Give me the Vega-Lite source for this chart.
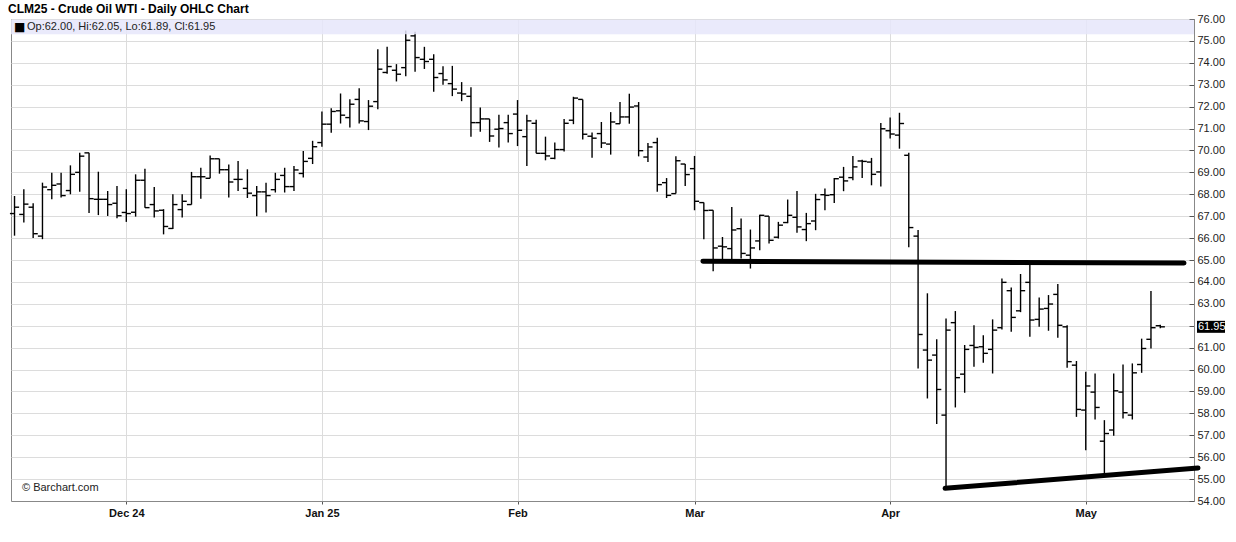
{
  "$schema": "https://vega.github.io/schema/vega-lite/v6.json",
  "width": 1183,
  "height": 482,
  "autosize": {"type": "none"},
  "padding": {"left": 11, "top": 19, "right": 42, "bottom": 41},
  "background": "white",
  "title": {
    "text": "CLM25 - Crude Oil WTI - Daily OHLC Chart",
    "anchor": "start",
    "frame": "group",
    "font": "Liberation Sans",
    "fontSize": 12,
    "fontWeight": "bold",
    "color": "#000000",
    "baseline": "alphabetic",
    "offset": 5,
    "dx": -3,
    "dy": 17
  },
  "config": {
    "view": {"stroke": "#888888", "strokeWidth": 1},
    "font": "Liberation Sans",
    "axis": {"gridColor": "#dcdcdc", "gridWidth": 1, "domainColor": "#888888", "tickColor": "#555555", "labelFont": "Liberation Sans", "labelFontSize": 11, "labelColor": "#222222", "title": null},
    "axisY": {"values": [54,55,56,57,58,59,60,61,62,63,64,65,66,67,68,69,70,71,72,73,74,75,76], "format": ".2f", "labelOverlap": false, "tickSize": -5, "labelPadding": 8, "grid": true, "tickCount": 23}
  },
  "datasets": {
    "bars": [
      {"i":0,"date":"2024-11-13","o":67.12,"h":67.92,"l":66.11,"c":67.41},
      {"i":1,"date":"2024-11-14","o":67.08,"h":68.23,"l":66.71,"c":67.55},
      {"i":2,"date":"2024-11-15","o":67.41,"h":67.59,"l":66.00,"c":66.20},
      {"i":3,"date":"2024-11-18","o":66.09,"h":68.53,"l":65.95,"c":68.33},
      {"i":4,"date":"2024-11-19","o":68.21,"h":68.98,"l":67.77,"c":68.41},
      {"i":5,"date":"2024-11-20","o":68.47,"h":68.98,"l":67.85,"c":67.94},
      {"i":6,"date":"2024-11-21","o":68.17,"h":69.32,"l":68.00,"c":68.91},
      {"i":7,"date":"2024-11-22","o":69.00,"h":69.89,"l":68.11,"c":69.74},
      {"i":8,"date":"2024-11-25","o":69.89,"h":69.89,"l":67.14,"c":67.80},
      {"i":9,"date":"2024-11-26","o":67.77,"h":69.03,"l":67.05,"c":67.77},
      {"i":10,"date":"2024-11-27","o":67.77,"h":68.15,"l":67.01,"c":67.53},
      {"i":11,"date":"2024-11-29","o":67.59,"h":68.38,"l":66.91,"c":67.02},
      {"i":12,"date":"2024-12-02","o":67.17,"h":68.23,"l":66.74,"c":67.12},
      {"i":13,"date":"2024-12-03","o":67.18,"h":68.91,"l":66.98,"c":68.64},
      {"i":14,"date":"2024-12-04","o":68.64,"h":69.17,"l":67.39,"c":67.39},
      {"i":15,"date":"2024-12-05","o":67.53,"h":68.33,"l":66.94,"c":67.24},
      {"i":16,"date":"2024-12-06","o":67.27,"h":67.32,"l":66.17,"c":66.53},
      {"i":17,"date":"2024-12-09","o":66.44,"h":68.00,"l":66.41,"c":67.53},
      {"i":18,"date":"2024-12-10","o":67.30,"h":68.00,"l":66.94,"c":67.68},
      {"i":19,"date":"2024-12-11","o":67.53,"h":69.02,"l":67.53,"c":68.80},
      {"i":20,"date":"2024-12-12","o":68.80,"h":69.21,"l":67.80,"c":68.80},
      {"i":21,"date":"2024-12-13","o":68.73,"h":69.77,"l":68.73,"c":69.62},
      {"i":22,"date":"2024-12-16","o":69.62,"h":69.62,"l":68.94,"c":69.12},
      {"i":23,"date":"2024-12-17","o":69.12,"h":69.36,"l":67.85,"c":68.56},
      {"i":24,"date":"2024-12-18","o":68.68,"h":69.52,"l":68.15,"c":68.68},
      {"i":25,"date":"2024-12-19","o":68.27,"h":69.14,"l":67.83,"c":68.05},
      {"i":26,"date":"2024-12-20","o":67.94,"h":68.38,"l":67.00,"c":68.11},
      {"i":27,"date":"2024-12-23","o":68.11,"h":68.53,"l":67.17,"c":67.94},
      {"i":28,"date":"2024-12-24","o":68.21,"h":68.98,"l":68.08,"c":68.68},
      {"i":29,"date":"2024-12-26","o":68.86,"h":69.21,"l":68.08,"c":68.35},
      {"i":30,"date":"2024-12-27","o":68.35,"h":69.29,"l":68.15,"c":69.11},
      {"i":31,"date":"2024-12-30","o":68.95,"h":69.97,"l":68.76,"c":69.50},
      {"i":32,"date":"2024-12-31","o":69.64,"h":70.44,"l":69.38,"c":70.17},
      {"i":33,"date":"2025-01-02","o":70.36,"h":71.78,"l":70.17,"c":71.20},
      {"i":34,"date":"2025-01-03","o":71.20,"h":71.93,"l":70.81,"c":71.78},
      {"i":35,"date":"2025-01-06","o":71.81,"h":72.60,"l":71.23,"c":71.61},
      {"i":36,"date":"2025-01-07","o":71.50,"h":72.34,"l":71.05,"c":72.11},
      {"i":37,"date":"2025-01-08","o":72.33,"h":72.84,"l":71.23,"c":71.35},
      {"i":38,"date":"2025-01-09","o":71.32,"h":72.30,"l":70.93,"c":72.02},
      {"i":39,"date":"2025-01-10","o":72.23,"h":74.62,"l":71.88,"c":73.71},
      {"i":40,"date":"2025-01-13","o":73.56,"h":74.73,"l":73.50,"c":73.83},
      {"i":41,"date":"2025-01-14","o":73.66,"h":73.94,"l":73.15,"c":73.48},
      {"i":42,"date":"2025-01-15","o":73.78,"h":75.48,"l":73.39,"c":75.03},
      {"i":43,"date":"2025-01-16","o":75.23,"h":75.42,"l":73.59,"c":74.24},
      {"i":44,"date":"2025-01-17","o":74.16,"h":74.73,"l":73.72,"c":74.06},
      {"i":45,"date":"2025-01-21","o":74.16,"h":74.39,"l":72.68,"c":73.33},
      {"i":46,"date":"2025-01-22","o":73.51,"h":73.84,"l":73.00,"c":73.22},
      {"i":47,"date":"2025-01-23","o":73.05,"h":73.86,"l":72.48,"c":72.80},
      {"i":48,"date":"2025-01-24","o":72.62,"h":73.12,"l":72.25,"c":72.58},
      {"i":49,"date":"2025-01-27","o":72.47,"h":72.88,"l":70.62,"c":71.27},
      {"i":50,"date":"2025-01-28","o":71.27,"h":71.96,"l":70.85,"c":71.44},
      {"i":51,"date":"2025-01-29","o":71.44,"h":71.44,"l":70.39,"c":70.66},
      {"i":52,"date":"2025-01-30","o":70.97,"h":71.63,"l":70.13,"c":71.00},
      {"i":53,"date":"2025-01-31","o":71.27,"h":71.63,"l":70.36,"c":70.77},
      {"i":54,"date":"2025-02-03","o":71.66,"h":72.30,"l":70.20,"c":70.92},
      {"i":55,"date":"2025-02-04","o":70.63,"h":71.63,"l":69.29,"c":71.35},
      {"i":56,"date":"2025-02-05","o":71.24,"h":71.40,"l":69.87,"c":69.87},
      {"i":57,"date":"2025-02-06","o":69.87,"h":70.63,"l":69.55,"c":69.75},
      {"i":58,"date":"2025-02-07","o":69.64,"h":70.36,"l":69.60,"c":70.04},
      {"i":59,"date":"2025-02-10","o":70.04,"h":71.44,"l":69.95,"c":71.24},
      {"i":60,"date":"2025-02-11","o":71.38,"h":72.45,"l":71.20,"c":72.39},
      {"i":61,"date":"2025-02-12","o":72.33,"h":72.33,"l":70.50,"c":70.74},
      {"i":62,"date":"2025-02-13","o":70.65,"h":70.82,"l":69.67,"c":70.56},
      {"i":63,"date":"2025-02-14","o":70.77,"h":71.30,"l":70.11,"c":70.34},
      {"i":64,"date":"2025-02-18","o":70.29,"h":71.75,"l":69.81,"c":71.30},
      {"i":65,"date":"2025-02-19","o":71.22,"h":72.21,"l":71.22,"c":71.53},
      {"i":66,"date":"2025-02-20","o":71.53,"h":72.59,"l":71.22,"c":71.98},
      {"i":67,"date":"2025-02-21","o":72.03,"h":72.21,"l":69.73,"c":69.99},
      {"i":68,"date":"2025-02-24","o":69.70,"h":70.34,"l":69.47,"c":70.16},
      {"i":69,"date":"2025-02-25","o":70.36,"h":70.58,"l":68.11,"c":68.44},
      {"i":70,"date":"2025-02-26","o":68.53,"h":68.74,"l":67.83,"c":67.95},
      {"i":71,"date":"2025-02-27","o":68.03,"h":69.73,"l":68.03,"c":69.53},
      {"i":72,"date":"2025-02-28","o":69.38,"h":69.38,"l":68.38,"c":68.90},
      {"i":73,"date":"2025-03-03","o":69.17,"h":69.75,"l":67.27,"c":67.68},
      {"i":74,"date":"2025-03-04","o":67.62,"h":67.62,"l":65.95,"c":67.26},
      {"i":75,"date":"2025-03-05","o":67.27,"h":67.27,"l":64.49,"c":65.55},
      {"i":76,"date":"2025-03-06","o":65.63,"h":66.05,"l":64.99,"c":65.60},
      {"i":77,"date":"2025-03-07","o":65.52,"h":67.42,"l":64.99,"c":66.37},
      {"i":78,"date":"2025-03-10","o":66.43,"h":66.89,"l":65.07,"c":65.30},
      {"i":79,"date":"2025-03-11","o":65.22,"h":66.39,"l":64.61,"c":65.55},
      {"i":80,"date":"2025-03-12","o":65.87,"h":67.07,"l":65.45,"c":67.04},
      {"i":81,"date":"2025-03-13","o":67.00,"h":67.00,"l":65.75,"c":65.90},
      {"i":82,"date":"2025-03-14","o":66.04,"h":66.74,"l":65.98,"c":66.59},
      {"i":83,"date":"2025-03-17","o":66.71,"h":67.76,"l":66.68,"c":67.04},
      {"i":84,"date":"2025-03-18","o":66.95,"h":68.15,"l":66.24,"c":66.51},
      {"i":85,"date":"2025-03-19","o":66.39,"h":67.15,"l":65.86,"c":66.66},
      {"i":86,"date":"2025-03-20","o":66.78,"h":68.02,"l":66.36,"c":67.76},
      {"i":87,"date":"2025-03-21","o":67.98,"h":68.26,"l":67.27,"c":67.95},
      {"i":88,"date":"2025-03-24","o":67.98,"h":68.74,"l":67.60,"c":68.71},
      {"i":89,"date":"2025-03-25","o":68.78,"h":69.25,"l":68.14,"c":68.61},
      {"i":90,"date":"2025-03-26","o":68.76,"h":69.75,"l":68.64,"c":69.25},
      {"i":91,"date":"2025-03-27","o":69.52,"h":69.58,"l":68.74,"c":69.50},
      {"i":92,"date":"2025-03-28","o":69.47,"h":69.66,"l":68.41,"c":68.91},
      {"i":93,"date":"2025-03-31","o":69.02,"h":71.25,"l":68.36,"c":70.99},
      {"i":94,"date":"2025-04-01","o":70.90,"h":71.50,"l":70.55,"c":70.75},
      {"i":95,"date":"2025-04-02","o":70.70,"h":71.72,"l":70.08,"c":71.23},
      {"i":96,"date":"2025-04-03","o":69.78,"h":69.90,"l":65.58,"c":66.48},
      {"i":97,"date":"2025-04-04","o":66.09,"h":66.37,"l":60.05,"c":61.60},
      {"i":98,"date":"2025-04-07","o":60.89,"h":63.48,"l":58.68,"c":60.43},
      {"i":99,"date":"2025-04-08","o":60.66,"h":61.38,"l":57.51,"c":59.09},
      {"i":100,"date":"2025-04-09","o":57.92,"h":62.33,"l":54.50,"c":61.80},
      {"i":101,"date":"2025-04-10","o":62.14,"h":62.67,"l":58.27,"c":59.63},
      {"i":102,"date":"2025-04-11","o":59.79,"h":61.12,"l":58.94,"c":60.92},
      {"i":103,"date":"2025-04-14","o":61.10,"h":62.02,"l":60.13,"c":61.01},
      {"i":104,"date":"2025-04-15","o":61.04,"h":61.56,"l":60.31,"c":60.74},
      {"i":105,"date":"2025-04-16","o":60.92,"h":62.29,"l":59.82,"c":61.80},
      {"i":106,"date":"2025-04-17","o":61.91,"h":64.16,"l":61.83,"c":63.98},
      {"i":107,"date":"2025-04-21","o":63.60,"h":63.75,"l":61.73,"c":62.38},
      {"i":108,"date":"2025-04-22","o":62.68,"h":64.36,"l":62.62,"c":63.60},
      {"i":109,"date":"2025-04-23","o":63.98,"h":64.85,"l":61.50,"c":62.26},
      {"i":110,"date":"2025-04-24","o":62.29,"h":63.29,"l":61.95,"c":62.76},
      {"i":111,"date":"2025-04-25","o":62.79,"h":63.40,"l":61.77,"c":62.99},
      {"i":112,"date":"2025-04-28","o":63.43,"h":63.90,"l":61.45,"c":62.02},
      {"i":113,"date":"2025-04-29","o":61.95,"h":62.02,"l":60.08,"c":60.36},
      {"i":114,"date":"2025-04-30","o":60.20,"h":60.39,"l":57.84,"c":58.18},
      {"i":115,"date":"2025-05-01","o":58.15,"h":59.90,"l":56.32,"c":59.25},
      {"i":116,"date":"2025-05-02","o":58.97,"h":59.82,"l":57.72,"c":58.27},
      {"i":117,"date":"2025-05-05","o":56.73,"h":57.69,"l":55.26,"c":57.08},
      {"i":118,"date":"2025-05-06","o":57.24,"h":59.82,"l":56.98,"c":59.03},
      {"i":119,"date":"2025-05-07","o":58.97,"h":60.23,"l":57.77,"c":58.03},
      {"i":120,"date":"2025-05-08","o":57.92,"h":60.28,"l":57.72,"c":59.85},
      {"i":121,"date":"2025-05-09","o":60.23,"h":61.41,"l":59.85,"c":60.96},
      {"i":122,"date":"2025-05-12","o":61.38,"h":63.58,"l":60.96,"c":61.91},
      {"i":123,"date":"2025-05-13","o":62.00,"h":62.05,"l":61.89,"c":61.95}
    ],
    "lines": [
      {"name":"resistance","i":73.9,"p":64.94},
      {"name":"resistance","i":125.55,"p":64.86},
      {"name":"support","i":99.9,"p":54.58},
      {"name":"support","i":127.05,"p":55.51}
    ],
    "info": [
      {"square":"■","legend":"Op:62.00, Hi:62.05, Lo:61.89, Cl:61.95","credit":"© Barchart.com","last":61.95,"lastLabel":"61.95"}
    ]
  },
  "layer": [
    {
      "data": {"name": "bars"},
      "mark": {"type": "rule", "color": "#000000", "strokeWidth": 1.4},
      "encoding": {
        "x": {
          "field": "i", "type": "quantitative",
          "scale": {"domain": [-0.378, 126.62], "nice": false, "zero": false},
          "axis": {
            "values": [12, 33, 54, 73, 94, 115],
            "labelExpr": "datum.value == 12 ? 'Dec 24' : datum.value == 33 ? 'Jan 25' : datum.value == 54 ? 'Feb' : datum.value == 73 ? 'Mar' : datum.value == 94 ? 'Apr' : 'May'",
            "labelFontWeight": "bold",
            "labelFontSize": 11,
            "labelColor": "#111111",
            "tickSize": 3,
            "labelPadding": 3,
            "grid": true
          }
        },
        "y": {
          "field": "l", "type": "quantitative",
          "scale": {"domain": [54, 76], "nice": false, "zero": false},
          "axis": {"orient": "right", "values": [54,55,56,57,58,59,60,61,62,63,64,65,66,67,68,69,70,71,72,73,74,75,76], "format": ".2f", "labelOverlap": false, "tickSize": -5, "labelPadding": 8, "grid": true}
        },
        "y2": {"field": "h"}
      }
    },
    {
      "data": {"name": "info"},
      "mark": {"type": "rect", "fill": "#e6e6fa", "fillOpacity": 0.85},
      "encoding": {
        "x": {"datum": -0.378, "type": "quantitative"},
        "x2": {"datum": 126.62},
        "y": {"datum": 75.97, "type": "quantitative", "axis": {"orient": "right", "values": [54,55,56,57,58,59,60,61,62,63,64,65,66,67,68,69,70,71,72,73,74,75,76], "format": ".2f", "labelOverlap": false, "tickSize": -5, "labelPadding": 8, "grid": true}},
        "y2": {"datum": 75.3}
      }
    },
    {
      "data": {"name": "bars"},
      "mark": {"type": "rule", "color": "#000000", "strokeWidth": 1.4, "x2Offset": -4.6},
      "encoding": {
        "x": {"field": "i", "type": "quantitative"},
        "x2": {"field": "i"},
        "y": {"field": "o", "type": "quantitative", "axis": {"orient": "right", "values": [54,55,56,57,58,59,60,61,62,63,64,65,66,67,68,69,70,71,72,73,74,75,76], "format": ".2f", "labelOverlap": false, "tickSize": -5, "labelPadding": 8, "grid": true}}
      }
    },
    {
      "data": {"name": "bars"},
      "mark": {"type": "rule", "color": "#000000", "strokeWidth": 1.4, "x2Offset": 4.6},
      "encoding": {
        "x": {"field": "i", "type": "quantitative"},
        "x2": {"field": "i"},
        "y": {"field": "c", "type": "quantitative", "axis": {"orient": "right", "values": [54,55,56,57,58,59,60,61,62,63,64,65,66,67,68,69,70,71,72,73,74,75,76], "format": ".2f", "labelOverlap": false, "tickSize": -5, "labelPadding": 8, "grid": true}}
      }
    },
    {
      "data": {"name": "lines"},
      "mark": {"type": "line", "color": "#000000", "strokeWidth": 5, "strokeCap": "round"},
      "encoding": {
        "x": {"field": "i", "type": "quantitative"},
        "y": {"field": "p", "type": "quantitative", "axis": {"orient": "right", "values": [54,55,56,57,58,59,60,61,62,63,64,65,66,67,68,69,70,71,72,73,74,75,76], "format": ".2f", "labelOverlap": false, "tickSize": -5, "labelPadding": 8, "grid": true}},
        "detail": {"field": "name"}
      }
    },
    {
      "data": {"name": "info"},
      "mark": {"type": "text", "align": "left", "baseline": "middle", "font": "DejaVu Sans", "fontSize": 12, "color": "#000000", "dx": 3},
      "encoding": {
        "x": {"datum": -0.378, "type": "quantitative"},
        "y": {"datum": 75.62, "type": "quantitative", "axis": {"orient": "right", "values": [54,55,56,57,58,59,60,61,62,63,64,65,66,67,68,69,70,71,72,73,74,75,76], "format": ".2f", "labelOverlap": false, "tickSize": -5, "labelPadding": 8, "grid": true}},
        "text": {"field": "square"}
      }
    },
    {
      "data": {"name": "info"},
      "mark": {"type": "text", "align": "left", "baseline": "middle", "font": "Liberation Sans", "fontSize": 11, "color": "#222222", "dx": 16},
      "encoding": {
        "x": {"datum": -0.378, "type": "quantitative"},
        "y": {"datum": 75.62, "type": "quantitative", "axis": {"orient": "right", "values": [54,55,56,57,58,59,60,61,62,63,64,65,66,67,68,69,70,71,72,73,74,75,76], "format": ".2f", "labelOverlap": false, "tickSize": -5, "labelPadding": 8, "grid": true}},
        "text": {"field": "legend"}
      }
    },
    {
      "data": {"name": "info"},
      "mark": {"type": "text", "align": "left", "baseline": "middle", "font": "Liberation Sans", "fontSize": 11, "color": "#222222", "dx": 11, "dy": -13},
      "encoding": {
        "x": {"datum": -0.378, "type": "quantitative"},
        "y": {"datum": 54, "type": "quantitative", "axis": {"orient": "right", "values": [54,55,56,57,58,59,60,61,62,63,64,65,66,67,68,69,70,71,72,73,74,75,76], "format": ".2f", "labelOverlap": false, "tickSize": -5, "labelPadding": 8, "grid": true}},
        "text": {"field": "credit"}
      }
    },
    {
      "data": {"name": "info"},
      "mark": {"type": "rect", "fill": "#000000", "xOffset": 3, "x2Offset": 31, "yOffset": -6, "y2Offset": 6},
      "encoding": {
        "x": {"datum": 126.62, "type": "quantitative"},
        "x2": {"datum": 126.62},
        "y": {"field": "last", "type": "quantitative", "axis": {"orient": "right", "values": [54,55,56,57,58,59,60,61,62,63,64,65,66,67,68,69,70,71,72,73,74,75,76], "format": ".2f", "labelOverlap": false, "tickSize": -5, "labelPadding": 8, "grid": true}},
        "y2": {"field": "last"}
      }
    },
    {
      "data": {"name": "info"},
      "mark": {"type": "text", "align": "left", "baseline": "middle", "font": "Liberation Sans", "fontSize": 11, "color": "#ffffff", "dx": 4},
      "encoding": {
        "x": {"datum": 126.62, "type": "quantitative"},
        "y": {"field": "last", "type": "quantitative", "axis": {"orient": "right", "values": [54,55,56,57,58,59,60,61,62,63,64,65,66,67,68,69,70,71,72,73,74,75,76], "format": ".2f", "labelOverlap": false, "tickSize": -5, "labelPadding": 8, "grid": true}},
        "text": {"field": "lastLabel"}
      }
    }
  ]
}
